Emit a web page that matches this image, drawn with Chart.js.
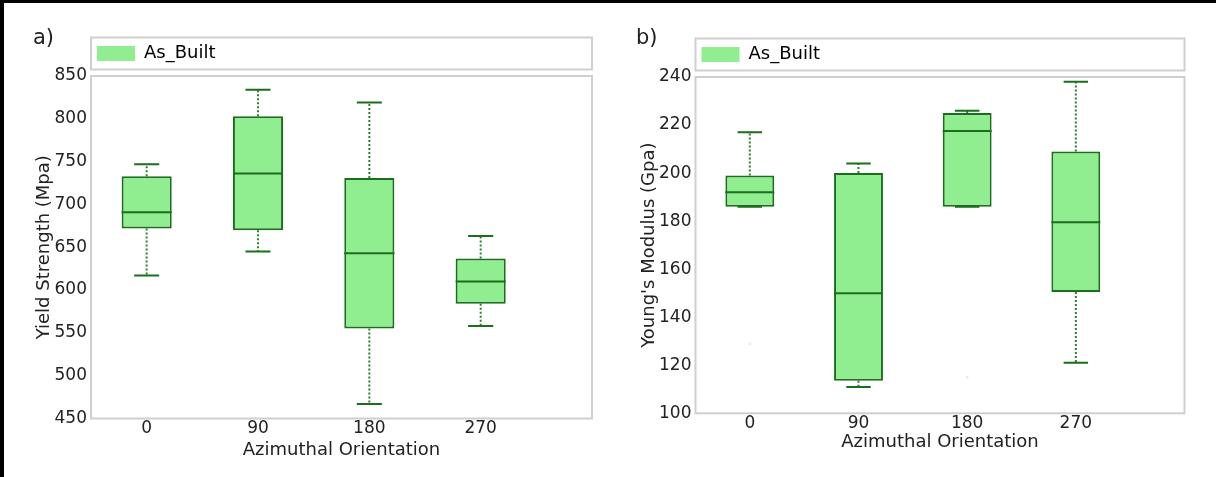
<!DOCTYPE html>
<html>
<head>
<meta charset="utf-8">
<script src="https://cdn.jsdelivr.net/npm/chart.js@4.4.1/dist/chart.umd.min.js"></script>
<style>
  html, body { margin: 0; padding: 0; background: #fff; }
  #wrap { position: relative; width: 1216px; height: 477px; overflow: hidden; }
  #wrap canvas { position: absolute; top: 0; }
  #chartA { left: 0; }
  #chartB { left: 608px; }
  .panel-label { position: absolute; font-family: 'DejaVu Sans'; font-size: 21px; color: #222; line-height: 1; }
  #frame { position: absolute; left: 0; top: 0; width: 1216px; height: 477px; box-sizing: border-box;
           border-top: 3px solid #000; border-left: 4px solid #000; pointer-events: none; }
</style>
</head>
<body>
<div id="wrap">
  <canvas id="chartA" width="608" height="477" style="width:608px;height:477px"></canvas>
  <canvas id="chartB" width="608" height="477" style="width:608px;height:477px"></canvas>
  <div class="panel-label" style="left:33px; top:27px;">a)</div>
  <div class="panel-label" style="left:636px; top:27px;">b)</div>
  <div id="frame"></div>
</div>
<script>
// azimuthal orientations (x categories)
const categories = ['0', '90', '180', '270'];
const seriesName = 'As_Built';

// a) Yield strength, MPa
const ysMin = [617, 645, 467, 558];
const ysQ1 = [672, 670, 555, 584];
const ysMedian = [691, 736, 643, 610];
const ysQ3 = [733, 803, 731, 637];
const ysMax = [747, 834, 819, 663];
const ysTicks = [450, 500, 550, 600, 650, 700, 750, 800, 850];

// b) Young's modulus, GPa
const ymMin = [186, 111, 186, 121];
const ymQ1 = [186, 113.5, 186, 150.5];
const ymMedian = [192, 150, 217.5, 179.5];
const ymQ3 = [199, 200, 225, 209];
const ymMax = [217, 204, 226, 238];
const ymFlierCat = ['0', '180'];
const ymFlierVal = [129, 115];
const ymTicks = [100, 120, 140, 160, 180, 200, 220, 240];

const fontFamily = 'DejaVu Sans';
const textColor = '#222';
const fillColor = '#90ee90';
const edgeColor = '#1b6e1b';
const boxHalf = 0.225;   // half box width, in axis units
const capHalf = 0.1125;

function boxDatasets(min, q1, med, q3, max, flierCat, flierVal) {
  const boxes = [], medians = [], whiskers = [], caps = [];
  categories.forEach((c, i) => {
    const x = i + 1;
    boxes.push({ x: x, y: [q1[i], q3[i]] });
    medians.push({ x: x - boxHalf, y: med[i] }, { x: x + boxHalf, y: med[i] }, { x: x + boxHalf, y: null });
    whiskers.push({ x: x, y: q3[i] }, { x: x, y: max[i] }, { x: x, y: null },
                  { x: x, y: q1[i] }, { x: x, y: min[i] }, { x: x, y: null });
    caps.push({ x: x - capHalf, y: max[i] }, { x: x + capHalf, y: max[i] }, { x: x + capHalf, y: null },
              { x: x - capHalf, y: min[i] }, { x: x + capHalf, y: min[i] }, { x: x + capHalf, y: null });
  });
  const fliers = flierCat.map((c, i) => ({ x: categories.indexOf(c) + 1, y: flierVal[i] }));
  return [
    { type: 'bar', label: seriesName, data: boxes, backgroundColor: fillColor, borderColor: edgeColor,
      borderWidth: 2, borderSkipped: false, barPercentage: 0.45, categoryPercentage: 1, order: 3 },
    { type: 'line', label: 'whiskers', data: whiskers, borderColor: '#2f7d2f', borderWidth: 2,
      borderDash: [2, 2], pointRadius: 0, spanGaps: false, order: 2 },
    { type: 'line', label: 'caps', data: caps, borderColor: edgeColor, borderWidth: 2,
      pointRadius: 0, spanGaps: false, order: 1 },
    { type: 'line', label: 'median', data: medians, borderColor: edgeColor, borderWidth: 2,
      pointRadius: 0, spanGaps: false, order: 1 },
    { type: 'line', label: 'fliers', data: fliers, showLine: false, pointRadius: 1.5,
      pointBackgroundColor: 'rgba(0,0,0,0.08)', pointBorderWidth: 0, order: 1 }
  ];
}

// light grey frames round the plot and the legend; legend moved over the plot area
const framePlugin = {
  id: 'panelFrames',
  afterLayout(chart) {
    const a = chart.chartArea;
    chart.legend.left = a.left + 6 - 10;
    chart.legend.top = a.top - 22.5 - 9 - 10;
  },
  afterDraw(chart) {
    const ctx = chart.ctx, a = chart.chartArea;
    ctx.save();
    ctx.strokeStyle = '#cfcfcf';
    ctx.lineWidth = 2;
    ctx.strokeRect(a.left, a.top, a.right - a.left, a.bottom - a.top);
    ctx.strokeRect(a.left, a.top - 38.5, a.right - a.left, 32);
    ctx.restore();
  }
};

function makePanel(id, datasets, p) {
  return new Chart(document.getElementById(id), {
    type: 'bar',
    data: { datasets: datasets },
    options: {
      responsive: false,
      animation: false,
      layout: { padding: { top: p.padTop, right: p.padRight, bottom: p.padBottom, left: 0 } },
      plugins: {
        tooltip: { enabled: false },
        legend: {
          position: 'top',
          align: 'start',
          labels: {
            boxWidth: 38, boxHeight: 15, padding: 10,
            color: textColor, font: { family: fontFamily, size: 18 },
            generateLabels: () => [{ text: seriesName, fillStyle: fillColor, strokeStyle: fillColor,
                                     lineWidth: 0, hidden: false, datasetIndex: 0 }]
          }
        }
      },
      scales: {
        x: {
          type: 'linear', min: 0.5, max: 5, offset: false,
          grid: { display: false, drawTicks: false },
          border: { display: false },
          afterBuildTicks: axis => { axis.ticks = categories.map((c, i) => ({ value: i + 1 })); },
          ticks: { autoSkip: false, maxRotation: 0, padding: p.xTickPad, color: textColor,
                   font: { family: fontFamily, size: 17 },
                   callback: v => categories[Math.round(v) - 1] },
          title: { display: true, text: 'Azimuthal Orientation', color: textColor,
                   font: { family: fontFamily, size: 18 }, padding: { top: 0, bottom: 0 } },
          afterFit: axis => { axis.height = p.xAxisHeight; }
        },
        y: {
          min: p.ticks[0], max: p.ticks[p.ticks.length - 1],
          grid: { display: false, drawTicks: false },
          border: { display: false },
          afterBuildTicks: axis => { axis.ticks = p.ticks.map(v => ({ value: v })); },
          ticks: { padding: 4, color: textColor, font: { family: fontFamily, size: 17 } },
          title: { display: true, text: p.yTitle, color: textColor,
                   font: { family: fontFamily, size: 18 }, padding: { top: p.yTitlePad, bottom: 0 } },
          afterFit: axis => { axis.width = p.yAxisWidth; }
        }
      }
    },
    plugins: [framePlugin]
  });
}

makePanel('chartA', boxDatasets(ysMin, ysQ1, ysMedian, ysQ3, ysMax, [], []), {
  ticks: ysTicks, yTitle: 'Yield Strength (Mpa)',
  padTop: 38, padRight: 16, padBottom: 16.2,
  yAxisWidth: 91, yTitlePad: 33.2, xAxisHeight: 42.3, xTickPad: 0
});

makePanel('chartB', boxDatasets(ymMin, ymQ1, ymMedian, ymQ3, ymMax, ymFlierCat, ymFlierVal), {
  ticks: ymTicks, yTitle: "Young's Modulus (Gpa)",
  padTop: 39, padRight: 31.5, padBottom: 24.2,
  yAxisWidth: 87.5, yTitlePad: 30.2, xAxisHeight: 39.5, xTickPad: 0
});
</script>
</body>
</html>
